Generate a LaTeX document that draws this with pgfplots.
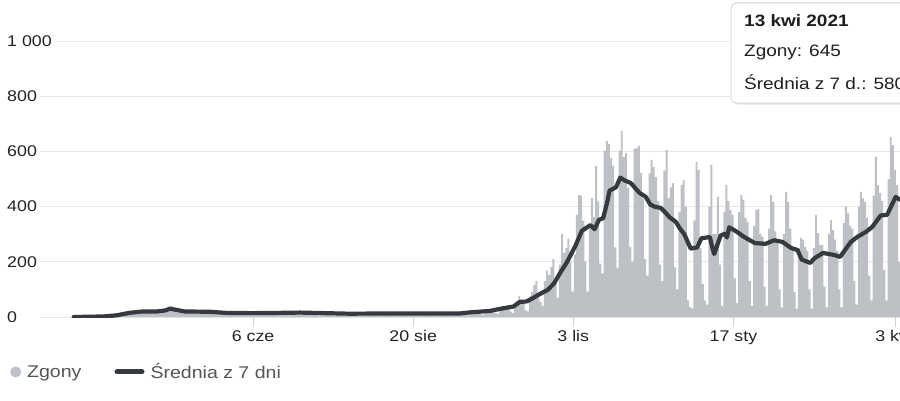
\documentclass[border=0pt]{standalone}
\usepackage{fontspec}
\setmainfont{Liberation Sans}[FakeStretch=1.15]
\usepackage{pgfplots}
\pgfplotsset{compat=1.18}
\usepackage{pgfplotstable}
\definecolor{barcol}{RGB}{189,192,197}
\definecolor{linecol}{RGB}{54,57,62}
\definecolor{gridcol}{RGB}{230,230,230}
\definecolor{tickcol}{RGB}{210,210,210}
\definecolor{txtcol}{RGB}{35,35,35}
\definecolor{legcol}{RGB}{85,85,85}

% daily deaths, first row = 12 Mar 2020 (day -85 relative to 6 Jun 2020)
\pgfplotstableread[row sep=\\]{
y\\
1\\1\\0\\1\\0\\2\\0\\2\\2\\2\\3\\4\\2\\4\\3\\5\\
6\\5\\8\\11\\12\\7\\9\\15\\15\\14\\16\\18\\17\\15\\
20\\18\\22\\16\\24\\21\\19\\23\\17\\20\\25\\22\\18\\21\\
28\\35\\40\\30\\26\\24\\22\\
20\\18\\22\\15\\24\\19\\17\\21\\16\\25\\20\\18\\14\\22\\19\\17\\16\\20\\12\\18\\15\\
14\\12\\18\\11\\15\\16\\9\\13\\17\\14\\10\\15\\12\\
15\\9\\6\\18\\20\\17\\14\\
16\\10\\7\\19\\21\\18\\15\\
17\\10\\6\\20\\22\\18\\16\\
16\\9\\7\\19\\21\\17\\14\\
14\\8\\5\\17\\19\\16\\13\\
13\\8\\5\\16\\18\\15\\12\\
12\\7\\4\\15\\17\\14\\12\\
12\\7\\5\\15\\16\\14\\11\\
12\\7\\4\\15\\17\\14\\12\\
13\\7\\5\\16\\18\\15\\12\\
13\\7\\5\\16\\18\\15\\12\\
12\\7\\5\\15\\17\\14\\12\\
13\\7\\5\\16\\18\\15\\12\\
13\\7\\5\\16\\18\\15\\13\\
15\\8\\6\\19\\21\\18\\16\\
18\\10\\7\\23\\26\\23\\20\\
26\\14\\10\\33\\37\\33\\29\\
38\\20\\14\\50\\58\\76\\62\\
50\\25\\20\\75\\90\\116\\130\\
85\\55\\40\\130\\168\\152\\181\\
210\\120\\70\\190\\300\\232\\250\\
283\\200\\92\\227\\370\\442\\440\\
349\\202\\92\\330\\431\\363\\548\\
419\\193\\158\\603\\637\\627\\576\\
548\\252\\178\\603\\674\\580\\594\\
469\\254\\200\\609\\612\\620\\521\\
430\\210\\150\\520\\569\\543\\507\\
420\\190\\130\\530\\605\\431\\470\\
485\\180\\100\\380\\478\\496\\400\\
60\\36\\30\\350\\562\\533\\250\\
120\\60\\45\\400\\551\\300\\300\\
435\\190\\40\\380\\478\\420\\388\\
370\\140\\50\\380\\442\\424\\360\\
344\\130\\40\\330\\388\\391\\300\\
290\\110\\40\\320\\442\\417\\310\\
280\\100\\35\\300\\453\\417\\320\\
250\\90\\30\\250\\286\\279\\254\\
240\\100\\30\\250\\370\\304\\260\\
260\\110\\35\\300\\351\\315\\280\\
240\\100\\35\\340\\399\\377\\330\\
320\\130\\45\\400\\453\\430\\417\\
359\\150\\60\\440\\580\\478\\449\\
420\\170\\60\\500\\652\\623\\533\\
478\\200\\100\\
}\bars

\begin{document}
\begin{tikzpicture}[x=1pt,y=1pt]
\useasboundingbox (0,0) rectangle (900,400);
\clip (0,0) rectangle (900,400);
\begin{axis}[
  at={(40pt,83pt)}, anchor=south west,
  scale only axis, width=860pt, height=276pt,
  xmin=-99.8, xmax=303.04, ymin=0, ymax=1000,
  axis lines*=left,
  axis line style={draw=none},
  ymajorgrids,
  major grid style={gridcol, line width=1pt},
  tick align=outside,
  major tick length=10pt,
  xtick={0,75,150,225,301},
  xticklabels={6 cze,20 sie,3 lis,17 sty,3 kwi},
  ytick={0,200,400,600,800,1000},
  yticklabels={0,200,400,600,800,1~000},
  xtick style={draw=tickcol, line width=1pt},
  ytick style={draw=none},
  /pgf/number format/assume math mode=true,
  tick label style={font=\fontsize{15.5}{17}\selectfont, text=txtcol},
  yticklabel style={anchor=west, xshift=-25pt, fill=white, inner xsep=2pt, inner ysep=1pt},
  legend columns=2,
  legend cell align=left,
  legend style={at={(axis description cs:-0.0384,-0.199)}, anchor=west,
    draw=none, fill=none, font=\fontsize{17}{19}\selectfont, text=legcol,
    /tikz/every odd column/.append style={column sep=4pt},
    /tikz/every even column/.append style={column sep=31pt}},
]
\addplot[ybar, bar width=0.9, bar shift=0pt, fill=barcol, draw=none,
  legend image code/.code={\fill[barcol] (5.5pt,0pt) circle (5.5pt);}]
  table[x expr=\coordindex-84.3, y=y] {\bars};
\addplot[linecol, line width=4.2pt, line join=round, line cap=round,
  legend image code/.code={\draw[linecol, line width=5pt, line cap=round] (2.5pt,0pt) -- (27.5pt,0pt);}]
  coordinates {
(-84,0) (-70,2) (-64,6) (-58,15) (-52,20) (-45,20) (-41,24) (-39,30) (-36,26)
(-32,20) (-20,19) (-13,15) (0,14) (13,15) (22,16) (45,12) (69,13) (97,13)
(102,17) (111,22) (116,30) (122,38) (125,55) (128,56) (131,68) (134,82)
(138,98) (141,122) (144,162) (147,198) (151,258) (154,312) (158,333)
(160,318) (162,352) (164,358) (166,420) (167,458) (170,470) (172,505)
(174,495) (177,485) (179,467) (181,450) (184,435) (186,408) (188,400)
(191,395) (193,380) (195,362) (198,345) (200,320) (202,300) (205,248)
(208,252) (210,285) (214,290) (215,255) (216,228) (219,295) (221,302)
(222,288) (223,325) (226,312) (230,290) (235,268) (240,265) (244,278)
(248,272) (252,250) (255,243) (257,208) (261,196) (263,213) (267,232)
(272,225) (275,218) (280,272) (283,290) (287,308) (290,326) (294,368)
(297,370) (301,435) (303,425)
  };
\legend{Zgony, Średnia z 7 dni}
\end{axis}
% tooltip
\fill[black!10, rounded corners=5pt] (732.5,295.5) rectangle (941,398);
\filldraw[fill=white, draw=black!18, line width=0.8pt, rounded corners=5pt] (731,297) rectangle (938,397);
\node[anchor=base west, inner sep=0pt, font=\fontsize{16.5}{18}\selectfont\bfseries, text=black!88] at (744,373) {13 kwi 2021};
\node[anchor=base west, inner sep=0pt, font=\fontsize{16.5}{18}\selectfont, text=black!88] at (744,343) {Zgony: 645};
\node[anchor=base west, inner sep=0pt, font=\fontsize{16.5}{18}\selectfont, text=black!88] at (744,311) {Średnia z 7 d.: 580};
\end{tikzpicture}
\end{document}
